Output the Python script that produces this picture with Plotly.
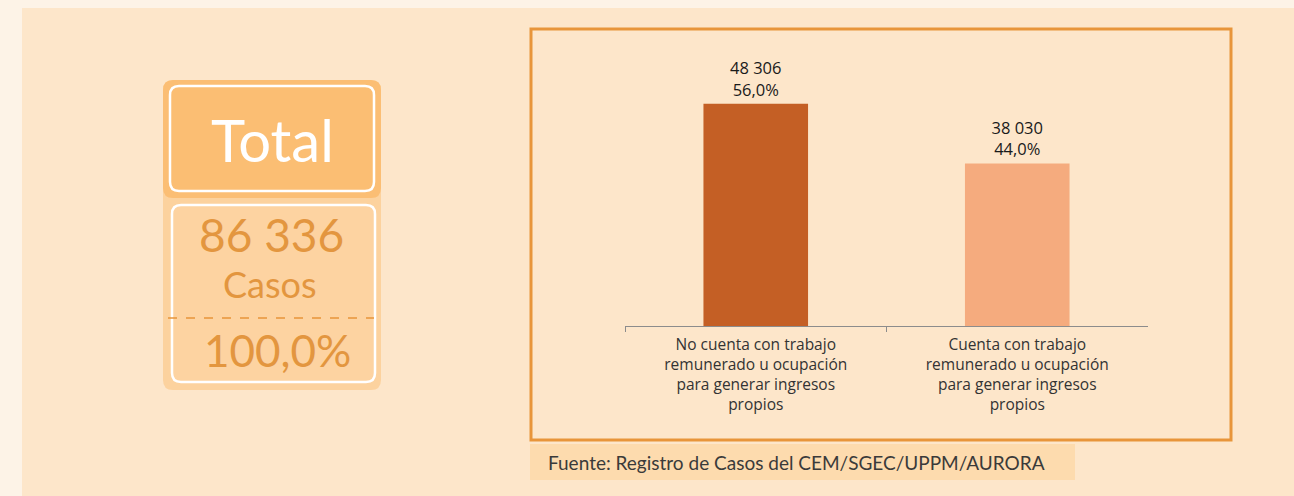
import plotly.graph_objects as go

W, H = 1294, 496

categories = [
    "No cuenta con trabajo<br>remunerado u ocupación<br>para generar ingresos<br>propios",
    "Cuenta con trabajo<br>remunerado u ocupación<br>para generar ingresos<br>propios",
]
cases = [48306, 38030]
percents = [56.0, 44.0]
bar_colors = ["#C45F25", "#F5AB7E"]

total_cases = "86 336"
total_pct = "100,0%"
source_text = "Fuente: Registro de Casos del CEM/SGEC/UPPM/AURORA"

ORANGE = "#E8953A"
TEXT_ORANGE = "#E3963F"


def fx(x):
    return x / W


def fy(y):
    return 1 - y / H


def rect(x0, y0, x1, y1, fill=None, line=None, width=0, dash=None):
    return dict(type="rect", xref="paper", yref="paper",
                x0=fx(x0), x1=fx(x1), y0=fy(y1), y1=fy(y0),
                fillcolor=fill or "rgba(0,0,0,0)",
                line=dict(color=line or "rgba(0,0,0,0)", width=width, dash=dash),
                layer="below")


def rrect(x0, y0, x1, y1, r, fill=None, line=None, width=0):
    pts = [
        f"M {fx(x0 + r)},{fy(y0)}",
        f"L {fx(x1 - r)},{fy(y0)}",
        f"Q {fx(x1)},{fy(y0)} {fx(x1)},{fy(y0 + r)}",
        f"L {fx(x1)},{fy(y1 - r)}",
        f"Q {fx(x1)},{fy(y1)} {fx(x1 - r)},{fy(y1)}",
        f"L {fx(x0 + r)},{fy(y1)}",
        f"Q {fx(x0)},{fy(y1)} {fx(x0)},{fy(y1 - r)}",
        f"L {fx(x0)},{fy(y0 + r)}",
        f"Q {fx(x0)},{fy(y0)} {fx(x0 + r)},{fy(y0)}",
        "Z",
    ]
    return dict(type="path", xref="paper", yref="paper", path=" ".join(pts),
                fillcolor=fill or "rgba(0,0,0,0)",
                line=dict(color=line or "rgba(0,0,0,0)", width=width),
                layer="below")


def label(x, y, text, size, color, anchor="center"):
    return dict(xref="paper", yref="paper", x=fx(x), y=fy(y), text=text,
                showarrow=False, xanchor=anchor, yanchor="middle",
                font=dict(family="Lato", size=size, color=color))


labels = [f"{c:,}".replace(",", " ") + "<br>" + f"{p:.1f}".replace(".", ",") + "%"
          for c, p in zip(cases, percents)]

fig = go.Figure(go.Bar(
    x=categories, y=cases, marker_color=bar_colors, marker_line_width=0,
    text=labels, textposition="outside", cliponaxis=False, constraintext="none",
    textfont=dict(family="Open Sans", size=16.5, color="#1a1a1a"),
    width=0.4,
))

shapes = [
    rect(22, 8, 1294, 496, fill="#FDE6CA"),
    rect(531, 29, 1231, 440, line=ORANGE, width=3),
    rect(530, 444, 1075, 480, fill="#FDDBAE"),
    # left summary card
    rrect(163, 80, 381, 390, 10, fill="#FCD29E"),
    rrect(163, 80, 381, 198, 10, fill="#FBBE74"),
    rrect(170, 86, 374, 191, 9, fill="#FBBE73", line="white", width=2.5),
    rrect(172, 205, 375, 382, 9, fill="#FDD3A1", line="white", width=2.5),
    dict(type="line", xref="paper", yref="paper", x0=fx(168), x1=fx(374),
         y0=fy(318), y1=fy(318), line=dict(color=ORANGE, width=1.5, dash="dash"),
         layer="below"),
]

annotations = [
    label(272, 139, "Total", 58, "white"),
    label(271, 234, total_cases, 46, TEXT_ORANGE),
    label(270, 284, "Casos", 36, TEXT_ORANGE),
    label(277, 350, total_pct, 44, TEXT_ORANGE),
    label(546, 462, source_text, 19, "#3a3a3a", anchor="left"),
]

fig.update_layout(
    width=W, height=H,
    margin=dict(l=0, r=0, t=0, b=0),
    paper_bgcolor="#FDF3E7",
    plot_bgcolor="rgba(0,0,0,0)",
    showlegend=False,
    shapes=shapes,
    annotations=annotations,
    xaxis=dict(domain=[fx(625), fx(1148)], showline=True, linecolor="#8c8c8c",
               linewidth=1, ticks="outside", tickson="boundaries", ticklen=5,
               tickcolor="#8c8c8c", showgrid=False, fixedrange=True, tickangle=0,
               ticklabelstandoff=4,
               tickfont=dict(family="Open Sans", size=15.5, color="#333333")),
    yaxis=dict(domain=[fy(326), fy(65)], range=[10000, 55000], visible=False,
               showgrid=False, fixedrange=True),
)

fig.write_html("out.html", config={"displayModeBar": False},
               post_script="document.body.style.margin='0';")
